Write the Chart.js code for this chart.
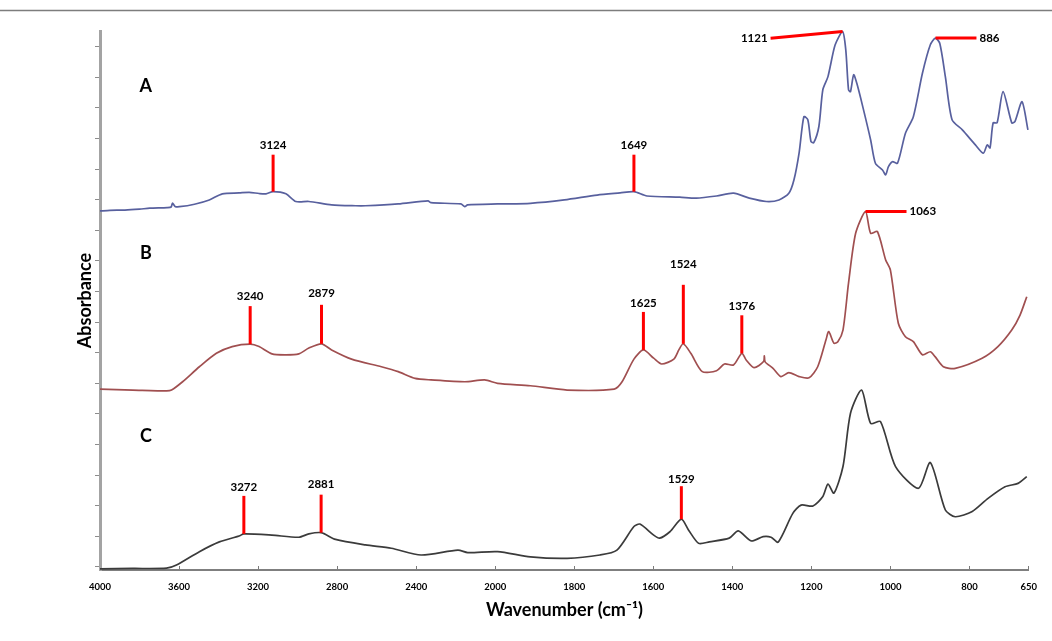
<!DOCTYPE html>
<html>
<head>
<meta charset="utf-8">
<title>FTIR spectra A, B, C</title>
<script src="https://cdn.jsdelivr.net/npm/chart.js@4.4.1/dist/chart.umd.min.js"></script>
<style>
  html, body { margin: 0; padding: 0; background: #ffffff; }
  #wrap { width: 1052px; height: 641px; }
  canvas { display: block; }
</style>
</head>
<body>
<div id="wrap"><canvas id="spectra" width="1052" height="641" style="width:1052px;height:641px"></canvas></div>
<script>
// ---- Spectra: wavenumber (cm-1) and absorbance (stacked, arbitrary units) ----
const TRACE_NAMES = ['A', 'B', 'C'];

const WN_A = [4000,3950,3874,3800,3748,3660,3640,3633,3620,3598,3522,3447,3381,3296,3245,3195,3160,3124,3059,3009,
  2943,2828,2707,2657,2491,2340,2325,2174,2154,2140,1994,1911,1825,1742,1684,1649,1616,1533,1491,1440,
  1397,1357,1314,1282,1257,1244,1231,1219,1209,1201,1194,1181,1171,1158,1140,1121,1113,1106,1101,1093,
  1085,1070,1050,1038,1020,1012,1005,995,982,962,942,919,899,886,875,861,844,818,785,765,
  755,748,740,730,715,693,685,667,652];
const ABS_A = [11.73,11.75,11.76,11.79,11.82,11.84,11.86,11.99,11.88,11.87,11.95,12.09,12.29,12.32,12.34,12.30,12.29,12.36,12.29,12.04,
  12.04,11.93,11.90,11.90,11.96,12.06,12.00,11.96,11.87,11.93,11.96,11.98,12.09,12.25,12.32,12.36,12.22,12.18,12.15,12.22,
  12.31,12.15,12.04,12.09,12.31,12.75,13.63,14.81,14.71,14.00,13.96,14.49,15.69,16.12,17.15,17.59,17.00,15.69,15.63,16.18,
  15.90,15.14,14.05,13.29,13.07,12.91,13.18,13.34,13.29,14.27,14.81,16.23,17.16,17.38,17.20,16.12,14.71,14.38,13.89,13.62,
  13.89,13.79,14.61,14.61,15.63,14.61,14.65,15.30,14.38];

const WN_B = [4000,3834,3663,3638,3582,3497,3411,3331,3240,3195,3130,3059,2994,2943,2879,2828,2727,2576,2491,2405,
  2325,2154,2053,1994,1911,1818,1699,1679,1649,1625,1599,1579,1548,1535,1524,1505,1476,1440,1420,1397,
  1376,1365,1345,1321,1319,1317,1297,1277,1257,1231,1206,1184,1163,1156,1143,1133,1120,1106,1088,1063,
  1050,1033,1012,1000,980,962,942,919,899,887,866,836,768,728,693,672,655];
const ABS_B = [5.91,5.88,5.85,5.88,6.15,6.64,7.08,7.30,7.38,7.30,7.06,7.03,7.06,7.25,7.39,7.19,6.89,6.64,6.48,6.26,
  6.21,6.15,6.21,6.10,6.02,5.88,5.91,6.15,6.89,7.19,6.92,6.73,6.89,7.20,7.39,7.08,6.48,6.51,6.73,6.70,
  7.08,6.86,6.61,6.81,7.00,6.80,6.59,6.32,6.45,6.32,6.28,6.64,7.52,7.79,7.41,7.46,7.84,9.37,11.00,11.71,
  11.00,11.06,10.13,9.80,8.06,7.62,7.46,7.03,7.13,6.97,6.64,6.59,6.92,7.30,7.84,8.33,8.93];

const WN_C = [4000,3834,3663,3613,3497,3396,3296,3272,3130,2994,2943,2881,2808,2657,2526,2375,2189,2139,1994,1911,
  1818,1735,1692,1649,1634,1599,1584,1558,1529,1511,1485,1458,1408,1385,1352,1322,1302,1284,1247,1226,
  1196,1171,1158,1143,1120,1101,1073,1050,1025,987,929,899,861,836,793,753,710,677,655];
const ABS_C = [0.04,0.05,0.06,0.16,0.60,0.92,1.11,1.18,1.14,1.07,1.18,1.22,1.00,0.82,0.71,0.49,0.65,0.57,0.60,0.43,
  0.38,0.49,0.65,1.42,1.50,1.14,1.04,1.25,1.66,1.31,0.87,0.92,1.04,1.28,0.95,1.09,1.07,0.91,1.85,2.12,
  2.09,2.40,2.81,2.51,3.38,5.12,5.88,4.79,4.85,3.38,2.67,3.51,1.96,1.74,1.91,2.34,2.72,2.83,3.05];

// Wavenumber ticks of the bottom axis
const X_TICKS = [4000, 3600, 3200, 2800, 2400, 2000, 1800, 1600, 1400, 1200, 1000, 800, 650];

// Labelled band positions (cm-1) for each trace
const PEAKS_A = [3124, 1649, 1121, 886];
const PEAKS_B = [3240, 2879, 1625, 1524, 1376, 1063];
const PEAKS_C = [3272, 2881, 1529];

const SERIES_WN = [WN_A, WN_B, WN_C];
const SERIES_ABS = [ABS_A, ABS_B, ABS_C];
const SERIES_PEAKS = [PEAKS_A, PEAKS_B, PEAKS_C];
const LINE_COLORS = ['#58609e', '#a04f50', '#3b3b3b'];

// How each band label is drawn: vertical stick, or a leader line to the side
const MARK_STYLE = {
  3124: { kind: 'up', len: 37, gap: 9 },
  1649: { kind: 'up', len: 37, gap: 9 },
  1121: { kind: 'leaderLeft', dx: -72, dy: 6.6 },
  886:  { kind: 'leaderRight', len: 41 },
  3240: { kind: 'up', len: 38, gap: 10 },
  2879: { kind: 'up', len: 39, gap: 12 },
  1625: { kind: 'up', len: 38, gap: 9 },
  1524: { kind: 'up', len: 59, gap: 21 },
  1376: { kind: 'up', len: 38, gap: 9 },
  1063: { kind: 'leaderRight', len: 41 },
  3272: { kind: 'up', len: 38, gap: 9 },
  2881: { kind: 'up', len: 38, gap: 10 },
  1529: { kind: 'up', len: 33, gap: 7 }
};

// ---- Wavenumber axis with a 2x expansion below 2000 cm-1 ----
const BREAK_WN = 2000;
function toSpan(w) {
  return w >= BREAK_WN ? (4000 - w) / 400 : 5 + (BREAK_WN - w) / 200;
}
function fromSpan(u) {
  return u <= 5 ? 4000 - 400 * u : BREAK_WN - 200 * (u - 5);
}
const SPAN = toSpan(650);

class WavenumberScale extends Chart.LinearScale {
  buildTicks() {
    return X_TICKS.map(v => ({ value: v }));
  }
  getPixelForValue(value) {
    if (value === null || value === undefined) return NaN;
    return this.getPixelForDecimal(toSpan(value) / SPAN);
  }
  getValueForPixel(pixel) {
    return fromSpan(this.getDecimalForPixel(pixel) * SPAN);
  }
}
WavenumberScale.id = 'wavenumber';
WavenumberScale.defaults = {};
Chart.register(WavenumberScale);

const FONT = 'Lato, "DejaVu Sans", sans-serif';
Chart.defaults.font.family = FONT;

// Frame line, trace letters and band annotations
const annotate = {
  id: 'annotate',
  beforeDraw(chart) {
    const ctx = chart.ctx;
    ctx.save();
    ctx.strokeStyle = '#7d7d7d';
    ctx.lineWidth = 1.5;
    ctx.beginPath();
    ctx.moveTo(0, 10.5);
    ctx.lineTo(chart.width, 10.5);
    ctx.stroke();
    ctx.restore();
  },
  afterDatasetsDraw(chart) {
    const ctx = chart.ctx;
    const xs = chart.scales.x, ys = chart.scales.y;
    ctx.save();

    // trace letters
    const letterY = [15.82, 10.36, 4.36];
    ctx.fillStyle = '#000';
    ctx.font = 'bold 18px ' + FONT;
    ctx.textAlign = 'center';
    ctx.textBaseline = 'middle';
    TRACE_NAMES.forEach((name, i) => {
      ctx.fillText(name, xs.getPixelForValue(3768), ys.getPixelForValue(letterY[i]));
    });

    // band markers
    ctx.font = 'bold 11.5px ' + FONT;
    ctx.strokeStyle = '#ff0000';
    ctx.lineWidth = 3;
    ctx.lineCap = 'butt';
    SERIES_PEAKS.forEach((peaks, s) => {
      peaks.forEach(wn => {
        const k = SERIES_WN[s].indexOf(wn);
        const px = xs.getPixelForValue(wn);
        const py = ys.getPixelForValue(SERIES_ABS[s][k]);
        const st = MARK_STYLE[wn];
        const text = String(wn);
        ctx.beginPath();
        if (st.kind === 'up') {
          ctx.moveTo(px, py);
          ctx.lineTo(px, py - st.len);
          ctx.stroke();
          ctx.textAlign = 'center';
          ctx.fillText(text, px, py - st.len - st.gap);
        } else if (st.kind === 'leaderRight') {
          ctx.moveTo(px, py);
          ctx.lineTo(px + st.len, py);
          ctx.stroke();
          ctx.textAlign = 'left';
          ctx.fillText(text, px + st.len + 3, py);
        } else {
          ctx.moveTo(px, py);
          ctx.lineTo(px + st.dx, py + st.dy);
          ctx.stroke();
          ctx.textAlign = 'right';
          ctx.fillText(text, px + st.dx - 3, py + st.dy);
        }
      });
    });
    ctx.restore();
  }
};

const datasets = TRACE_NAMES.map((name, s) => ({
  label: name,
  data: SERIES_WN[s].map((w, i) => ({ x: w, y: SERIES_ABS[s][i] })),
  borderColor: LINE_COLORS[s],
  borderWidth: 1.7,
  pointRadius: 0,
  tension: 0.25,
  fill: false,
  clip: false
}));

new Chart(document.getElementById('spectra'), {
  type: 'line',
  data: { datasets },
  plugins: [annotate],
  options: {
    responsive: false,
    animation: false,
    events: [],
    layout: { padding: { top: 31, right: 19, bottom: 0, left: 0 } },
    plugins: { legend: { display: false }, tooltip: { enabled: false } },
    scales: {
      x: {
        type: 'wavenumber',
        position: 'bottom',
        min: 650,
        max: 4000,
        afterFit(scale) { scale.height = 71; },
        grid: { display: true, drawOnChartArea: false, drawTicks: true, tickLength: -4, color: '#7a7a7a', lineWidth: 1 },
        border: { display: true, color: '#7f7f7f', width: 2 },
        ticks: {
          autoSkip: false, maxRotation: 0, minRotation: 0, padding: 15,
          color: '#000', font: { size: 9.5, weight: 'bold' },
          callback: v => String(v)
        },
        title: {
          display: true, text: 'Wavenumber (cm⁻¹)', color: '#000',
          font: { size: 18, weight: 'bold' }, padding: { top: 0, bottom: 20 }
        }
      },
      y: {
        type: 'linear',
        position: 'left',
        min: 0,
        max: 17.61,
        afterFit(scale) { scale.width = 100; },
        afterBuildTicks(scale) {
          scale.ticks = Array.from({ length: 18 }, (_, k) => ({ value: k + 0.1 }));
        },
        grid: { display: true, drawOnChartArea: false, drawTicks: true, tickLength: 5, color: '#8c8c8c', lineWidth: 1 },
        border: { display: true, color: '#a3a3a3', width: 3 },
        ticks: { callback: () => '', padding: 0 },
        title: {
          display: true, text: 'Absorbance', color: '#000',
          font: { size: 18, weight: 'bold' }, padding: { top: 74, bottom: 0 }
        }
      }
    }
  }
});
</script>
</body>
</html>
